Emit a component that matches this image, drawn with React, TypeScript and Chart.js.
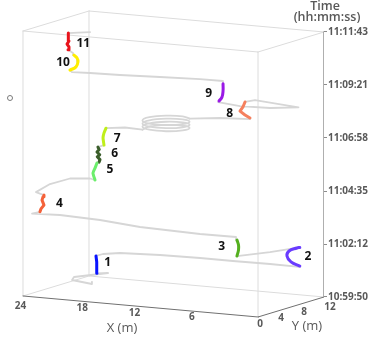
import React, { useEffect, useRef } from "react";
import { Chart, registerables } from "chart.js";

Chart.register(...registerables);

// ---------- axes ----------
const startTime = "10:59:50";
const timeTickLabels = ["10:59:50", "11:02:12", "11:04:35", "11:06:58", "11:09:21", "11:11:43"];
const xAxisRange = [0, 24]; // X (m)
const yAxisRange = [0, 12]; // Y (m)
const xTickValues = [24, 18, 12, 6];
const yTickValues = [0, 4, 8, 12];

// ---------- trajectory: [X (m), Y (m), seconds after 10:59:50] ----------
type P = [number, number, number];

const walkStart: P[] = [[22.2, 9.34, 0], [21.49, 8.07, 2], [23.62, 8.24, 7], [23.95, 9.19, 10], [21.34, 10.73, 20], [21.6, 9.18, 25]];
const stop1: P[] = [[21.5, 9, 27], [21.55, 9, 42], [21.5, 9, 57], [21.6, 9, 73]];
const walk1to2: P[] = [[21.27, 9.68, 76], [19.8, 10.16, 80], [15.64, 10.03, 85], [11.22, 9.44, 90], [7.45, 8.72, 94], [3.36, 8.17, 98], [0, 7.5, 101]];
const stop2: P[] = [[0, 7.6, 103], [0.9, 7.6, 112], [1.31, 7.6, 127], [1.1, 7.6, 141], [0.29, 7.6, 151], [0, 7.6, 153]];
const walk2to3: P[] = [[1.02, 4, 154]];
const stop3: P[] = [[2.43, 0.5, 156], [2.27, 0.5, 173], [2.27, 0.5, 186], [2.43, 0.5, 199]];
const walk3to4: P[] = [[3.11, 1.54, 201], [6.34, 0.75, 205], [12.51, 0.82, 209], [17.1, 1.72, 213], [21.27, 1.86, 216], [23.75, 1.2, 217]];
const stop4: P[] = [[23.39, 2, 219], [23.29, 2, 227], [22.98, 2, 238], [23.18, 2, 251], [23.08, 2, 260], [22.98, 2, 265]];
const walk4to5: P[] = [[23.8, 2, 271], [22.96, 3.06, 290], [21.66, 4.38, 302], [19.4, 4.0, 309]];
const stop5: P[] = [[18.33, 3, 312], [18.54, 3, 330], [18.33, 3, 344], [18.13, 3, 358]];
const stop6: P[] = [[17.92, 3, 361], [17.82, 3, 368], [18.1, 3, 375], [17.85, 3, 381], [18.13, 3, 388], [17.9, 3, 395], [18.03, 3, 401]];
const stop7: P[] = [[17.41, 3, 408], [17.51, 3, 427], [17.41, 3, 441], [17.21, 3, 454]];
const walk7toLoop: P[] = [[15.8, 3.94, 455]];
const loopWalk: P[] = [
  [13.75, 3.47, 456.0], [13.94, 5.07, 457.0], [12.95, 6.33, 458.1], [11.35, 6.52, 459.1],
  [10.09, 5.53, 460.1], [9.9, 3.93, 461.2], [10.89, 2.67, 462.2], [12.49, 2.48, 463.3],
  [13.75, 3.47, 464.3], [13.94, 5.07, 465.3], [12.95, 6.33, 466.4], [11.35, 6.52, 467.4],
  [10.09, 5.53, 468.4], [9.9, 3.93, 469.5], [10.89, 2.67, 470.5], [12.49, 2.48, 471.5],
  [13.75, 3.47, 472.6], [13.94, 5.07, 473.6], [12.95, 6.33, 474.6], [11.35, 6.52, 475.7],
  [10.09, 5.53, 476.7], [9.9, 3.93, 477.8], [10.89, 2.67, 478.8], [12.49, 2.48, 479.8],
  [13.75, 3.47, 480.9], [13.94, 5.07, 481.9], [12.95, 6.33, 482.9], [11.35, 6.52, 484.0],
  [10.09, 5.53, 485.0],
];
const walkLoopTo8: P[] = [[7.77, 6.93, 486], [5.09, 7.61, 486.5]];
const stop8: P[] = [[5.31, 8, 487], [5.82, 8, 494], [6.33, 8, 503], [6.03, 8, 515], [5.82, 8, 529]];
const walk8to9: P[] = [[5.44, 9.14, 530], [0, 7.36, 531], [1.98, 5.71, 532], [4.77, 5.22, 533], [7.35, 5.82, 535]];
const stop9: P[] = [[7.35, 6, 537], [7.05, 6, 548], [6.94, 6, 565], [6.94, 6, 584]];
const walk9to10: P[] = [[7.5, 6.98, 586], [9.63, 6.6, 588], [13.12, 5.53, 590], [16.6, 4.46, 592], [19.29, 3.8, 594], [20.87, 3.34, 595]];
const stop10: P[] = [[21.45, 4, 596], [20.83, 4, 606], [20.63, 4, 620], [20.73, 4, 630], [21.04, 4, 637]];
const walk10to11: P[] = [[21.2, 4.11, 642]];
const stop11: P[] = [[21.65, 4, 650], [21.55, 4, 658], [21.75, 4, 665], [21.55, 4, 674], [21.65, 4, 682], [21.55, 4, 690], [21.65, 4, 695]];
const walkEnd: P[] = [[20.7, 4.16, 698], [19.7, 4.54, 700]];

const stops = [stop1, stop2, stop3, stop4, stop5, stop6, stop7, stop8, stop9, stop10, stop11];
const stopNames = ["1", "2", "3", "4", "5", "6", "7", "8", "9", "10", "11"];

// ---------- styles / view ----------
const stopColors = ["#0a14ff", "#6a3cff", "#55b020", "#f4623a", "#6cee6c", "#3b5e2b", "#bfef1a", "#f5805e", "#9a19e6", "#ffee00", "#e8141c"];
const stopTension = [0, 0.45, 0.45, 0, 0.2, 0, 0.2, 0, 0.4, 0.45, 0];
const stopLabelNudge: [number, number][] = [[11, -2], [14, 2], [-16, -1], [17, 1], [15, -1], [16, -1], [13, 3], [-15, 3], [-13, 0], [-12, 0], [15, 2]];
const xTickNudge: [number, number][] = [[-2.5, 10.5], [0.5, 7], [-6, 7], [-7.5, 5.5]];
const yTickNudge: [number, number][] = [[2, 7], [1, 7.7], [2, 8.3], [6, 10]];
// oblique view: screen px per metre X / Y, and seconds-of-height per metre
const VIEW = { x0: 258, pxPerX: -9.792, pxPerY: 5.5, secPerX: 2.354, secPerY: 4.485 };

const toSec = (s: string) => {
  const [h, m, sec] = s.split(":").map(Number);
  return h * 3600 + m * 60 + sec;
};
const rel = (s: string) => toSec(s) - toSec(startTime);
const proj = ([X, Y, t]: P) => ({
  x: VIEW.x0 + VIEW.pxPerX * X + VIEW.pxPerY * Y,
  y: t + VIEW.secPerX * X + VIEW.secPerY * Y,
});

const tMax = rel(timeTickLabels[timeTickLabels.length - 1]);
const [x0, x1] = xAxisRange;
const [y0, y1] = yAxisRange;

const lightEdges: P[][] = [
  [[x1, y0, 0], [x1, y1, 0]],
  [[x1, y1, 0], [x0, y1, 0]],
  [[x1, y0, 0], [x1, y0, tMax]],
  [[x1, y1, 0], [x1, y1, tMax]],
  [[x0, y0, 0], [x0, y0, tMax]],
  [[x0, y0, tMax], [x1, y0, tMax]],
  [[x1, y0, tMax], [x1, y1, tMax]],
  [[x1, y1, tMax], [x0, y1, tMax]],
  [[x0, y1, tMax], [x0, y0, tMax]],
];
const axisEdges: P[][] = [
  [[x0, y0, 0], [x1, y0, 0]],
  [[x0, y0, 0], [x0, y1, 0]],
];
const timeAxisEdge: P[] = [[x0, y1, 0], [x0, y1, tMax]];

const pathBefore: P[] = [
  ...walkStart, ...stop1, ...walk1to2, ...stop2, ...walk2to3, ...stop3, ...walk3to4, ...stop4,
  ...walk4to5, ...stop5, ...stop6, ...stop7, ...walk7toLoop, loopWalk[0],
];
const pathAfter: P[] = [
  loopWalk[loopWalk.length - 1], ...walkLoopTo8, ...stop8, ...walk8to9, ...stop9, ...walk9to10,
  ...stop10, ...walk10to11, ...stop11, ...walkEnd,
];

const FONT = '"Open Sans", "DejaVu Sans", sans-serif';

const textPlugin = {
  id: "textPlugin",
  afterDatasetsDraw(chart: any) {
    const { ctx } = chart;
    const xs = chart.scales.x;
    const ys = chart.scales.y;
    const px = (p: P) => {
      const s = proj(p);
      return [xs.getPixelForValue(s.x), ys.getPixelForValue(s.y)];
    };
    ctx.save();
    ctx.textAlign = "center";
    ctx.textBaseline = "middle";

    // stop numbers
    ctx.font = `bold 12px ${FONT}`;
    ctx.fillStyle = "#111111";
    stops.forEach((s, i) => {
      const pts = s.map(px);
      const mx = pts.reduce((a, b) => a + b[0], 0) / pts.length;
      const my = pts.reduce((a, b) => a + b[1], 0) / pts.length;
      ctx.fillText(stopNames[i], mx + stopLabelNudge[i][0], my + stopLabelNudge[i][1]);
    });

    // floor axes tick labels
    ctx.font = `bold 10px ${FONT}`;
    ctx.fillStyle = "#595959";
    xTickValues.forEach((v, i) => {
      const [a, b] = px([v, y0, 0]);
      ctx.fillText(String(v), a + xTickNudge[i][0], b + xTickNudge[i][1]);
    });
    yTickValues.forEach((v, i) => {
      const [a, b] = px([x0, v, 0]);
      ctx.fillText(String(v), a + yTickNudge[i][0], b + yTickNudge[i][1]);
    });

    // axis titles
    ctx.font = `13px ${FONT}`;
    const [xa, xb] = px([(x0 + x1) / 2, y0, 0]);
    ctx.fillText("X (m)", xa - 18.5, xb + 21.5);
    const [ya, yb] = px([x0, (y0 + y1) / 2, 0]);
    ctx.fillText("Y (m)", ya + 16, yb + 19);

    const [ta, tb] = px([x0, y1, tMax]);
    ctx.font = `600 12.5px ${FONT}`;
    ctx.fillText("Time", ta + 1, tb - 25.5);
    ctx.fillText("(hh:mm:ss)", ta + 3, tb - 15);

    // small circle marker at left
    ctx.beginPath();
    ctx.strokeStyle = "#7a7a7a";
    ctx.lineWidth = 1;
    ctx.arc(chart.chartArea.left + 10, 98, 2.5, 0, Math.PI * 2);
    ctx.stroke();
    ctx.restore();
  },
};

export default function App() {
  const ref = useRef<HTMLCanvasElement | null>(null);
  useEffect(() => {
    document.body.style.margin = "0";
    if (!ref.current) return;
    const line = (pts: P[], color: string, width: number, order: number, tension = 0) => ({
      data: pts.map(proj),
      borderColor: color,
      backgroundColor: color,
      borderWidth: width,
      showLine: true,
      pointRadius: 0,
      tension,
      order,
    });
    const datasets: any[] = [
      ...lightEdges.map((e) => line(e, "#dcdcdc", 1, 40)),
      ...axisEdges.map((e) => line(e, "#707070", 1, 39)),
      line(timeAxisEdge, "#9c9c9c", 1.6, 38),
      line(pathBefore, "#d6d6d6", 1.8, 20),
      line(loopWalk, "#d6d6d6", 1.8, 20, 0.4),
      line(pathAfter, "#d6d6d6", 1.8, 20),
      ...stops.map((s, i) => line(s, stopColors[i], 3, 5, stopTension[i])),
    ];
    const chart = new Chart(ref.current, {
      type: "scatter",
      data: { datasets },
      options: {
        animation: false,
        responsive: false,
        maintainAspectRatio: false,
        layout: { padding: { left: 0, right: 0, top: 10, bottom: 10 } },
        plugins: { legend: { display: false }, tooltip: { enabled: false }, title: { display: false } },
        elements: { line: { borderCapStyle: "round", borderJoinStyle: "round" }, point: { radius: 0 } },
        scales: {
          x: { type: "linear", display: false, min: 0, max: 324 },
          y: {
            type: "linear",
            position: "right",
            min: -32.3,
            max: 826,
            afterFit: (s: any) => {
              s.width = 52;
            },
            afterBuildTicks: (s: any) => {
              s.ticks = timeTickLabels.map((l) => ({ value: proj([x0, y1, rel(l)]).y }));
            },
            grid: { display: true, drawOnChartArea: false, drawTicks: true, tickLength: 3, color: "#8c8c8c" },
            border: { display: false },
            ticks: {
              autoSkip: false,
              padding: 1,
              color: "#595959",
              font: { family: FONT, size: 10, weight: "bold" },
              callback: (_v: any, i: number) => timeTickLabels[i],
            },
          },
        },
      } as any,
      plugins: [textPlugin],
    });
    return () => chart.destroy();
  }, []);
  return (
    <div style={{ width: 376, height: 339, position: "relative" }}>
      <canvas ref={ref} width={376} height={339} style={{ display: "block" }} />
    </div>
  );
}
